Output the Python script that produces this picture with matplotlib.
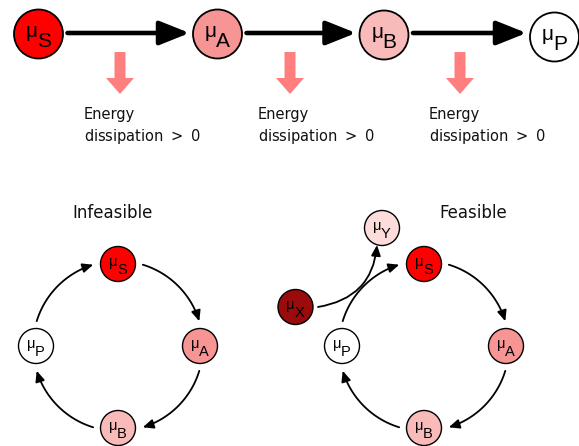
import matplotlib
matplotlib.use("Agg")
import matplotlib.pyplot as plt
from matplotlib.patches import Circle, FancyArrowPatch, Polygon
from matplotlib.path import Path
import numpy as np

# ---- data ----
top_labels = ["S", "A", "B", "P"]
top_x = [38.5, 217.5, 384, 554.5]
top_y = [34, 34, 35, 37]
node_colors = {"S": "#ff0000", "A": "#f79494", "B": "#f9baba", "P": "#ffffff",
               "X": "#9a0c0c", "Y": "#fddcdc"}
diss_x = [120, 290, 460]
diss_text_x = [84, 258, 429]
diss_lines = ["Energy", "dissipation $>$ 0"]

cycle_labels = ["S", "A", "B", "P"]
cycle_angles = [90, 0, -90, 180]
left_center = (118, 346)
right_center = (424, 346)
cycle_r = 82
arc_r = 85
node_r_small = 17.5
titles = ["Infeasible", "Feasible"]
title_x = [113, 473]
extra_nodes = {"X": (295.5, 307), "Y": (382, 228)}

fig = plt.figure(figsize=(5.79, 4.46), dpi=100)
ax = fig.add_axes([0, 0, 1, 1])
ax.set_xlim(0, 579)
ax.set_ylim(446, 0)
ax.set_aspect("equal")
ax.axis("off")


def node(x, y, r, lab, fs, lw=1.3):
    ax.add_patch(Circle((x, y), r, facecolor=node_colors[lab], edgecolor="black",
                        lw=lw, zorder=5))
    k = r / 25.0
    ax.text(x - 7 * k, y - 3 * k, "μ", fontsize=fs, ha="center", va="center",
            family="Liberation Sans", zorder=6)
    ax.text(x + 5.5 * k, y + 8 * k, lab, fontsize=fs, ha="center", va="center",
            family="Liberation Sans", zorder=6)


# top row
for lab, x, y in zip(top_labels, top_x, top_y):
    node(x, y, 24.5, lab, 15)

for i in range(3):
    x0 = top_x[i] + 29
    x1 = top_x[i + 1] - 28
    ax.add_patch(FancyArrowPatch((x0, 33), (x1, 33), arrowstyle="-|>,head_length=1.3,head_width=0.52",
                                 mutation_scale=14, lw=3.3, color="black", zorder=4,
                                 shrinkA=0, shrinkB=0))

for x in diss_x:
    pts = [(x - 5.5, 52), (x + 5.5, 52), (x + 5.5, 78), (x + 14, 78), (x, 94),
           (x - 14, 78), (x - 5.5, 78)]
    ax.add_patch(Polygon(pts, closed=True, facecolor="#ff7f7f", edgecolor="none"))

for tx in diss_text_x:
    ax.text(tx, 115, diss_lines[0], fontsize=10.5, ha="left", va="center", color="#111111")
    ax.text(tx, 136, diss_lines[1], fontsize=10.5, ha="left", va="center", color="#111111")


def cycle(cx, cy):
    for lab, ang in zip(cycle_labels, cycle_angles):
        a = np.deg2rad(ang)
        node(cx + cycle_r * np.cos(a), cy - cycle_r * np.sin(a), node_r_small, lab, 10.5, lw=1.0)
    for i in range(4):
        a0 = cycle_angles[i] - 17
        a1 = cycle_angles[(i + 1) % 4] + 17
        if a1 > a0:
            a1 -= 360
        angs = np.deg2rad(np.linspace(a0, a1, 40))
        verts = [(cx + arc_r * np.cos(t), cy - arc_r * np.sin(t)) for t in angs]
        codes = [Path.MOVETO] + [Path.LINETO] * (len(verts) - 1)
        ax.add_patch(FancyArrowPatch(path=Path(verts, codes),
                                     arrowstyle="-|>,head_length=0.45,head_width=0.2",
                                     mutation_scale=14, lw=1.3, color="black", zorder=3))


cycle(*left_center)
cycle(*right_center)

for lab, (x, y) in extra_nodes.items():
    node(x, y, node_r_small, lab, 10.5, lw=1.0)

A = (318, 307)
C = (372, 298)
B = (377, 245)
ax.add_patch(FancyArrowPatch(path=Path([A, C, B], [Path.MOVETO, Path.CURVE3, Path.CURVE3]),
                             arrowstyle="-|>,head_length=0.45,head_width=0.2",
                             mutation_scale=14, lw=1.3, color="black", zorder=3))

for t, x in zip(titles, title_x):
    ax.text(x, 213, t, fontsize=12, ha="center", va="center", color="#111111")

fig.savefig("out.png", dpi=100)
